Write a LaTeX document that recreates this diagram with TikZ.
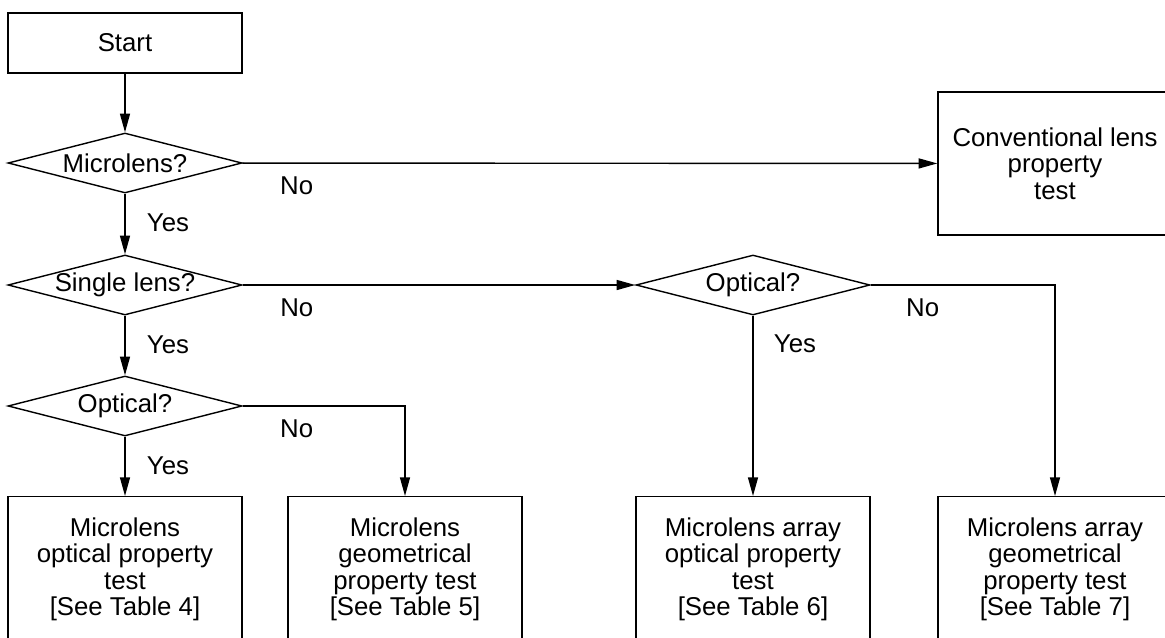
\documentclass[tikz,border=0pt]{standalone}
\usepackage{fontspec}
\setmainfont{Liberation Sans}
\usetikzlibrary{arrows.meta,shapes.geometric}

\begin{document}
\begin{tikzpicture}[x=0.03cm,y=-0.03cm,
    font=\fontsize{22}{22.6}\selectfont,line width=1.2pt,
    box/.style={draw,rectangle,minimum width=7.02cm,align=center,inner sep=0pt},
    testbox/.style={box,anchor=north,minimum height=4.35cm},
    ask/.style={draw,diamond,aspect=3.9,minimum width=7.02cm,minimum height=1.8cm,inner sep=0pt},
    flow/.style={-{Triangle[length=0.56cm,width=0.3cm]}},
    lbl/.style={inner sep=0pt}]
  % picture is cropped at the right and bottom edges
  \path[use as bounding box,clip] (0,0) rectangle (1165,637);

  % left column of questions
  \node[box,minimum height=1.8cm] (start) at (125,43) {Start};
  \node[ask] (micro) at (125,163) {Microlens?};
  \node[ask] (single) at (125,285) {Single lens?};
  \node[ask] (optl) at (125,406) {Optical?};
  \node[ask] (optr) at (753,285) {Optical?};
  \node[box,minimum height=4.29cm] (conv) at (1055,163.5) {Conventional lens\\property\\test};

  % test boxes along the bottom
  \node[testbox] (tab4) at (125,496) {Microlens\\optical property\\test\\{}[See Table 4]};
  \node[testbox] (tab5) at (405,496) {Microlens\\geometrical\\property test\\{}[See Table 5]};
  \node[testbox] (tab6) at (753,496) {Microlens array\\optical property\\test\\{}[See Table 6]};
  \node[testbox] (tab7) at (1055,496) {Microlens array\\geometrical\\property test\\{}[See Table 7]};

  \draw[flow] (start) -- (micro);
  \draw[flow] (micro) -- (conv);
  \draw[flow] (micro) -- (single);
  \draw[flow] (single) -- (optr);
  \draw[flow] (single) -- (optl);
  \draw[flow] (optl) -- (tab4);
  \draw[flow] (optl.east) -| (tab5.north);
  \draw[flow] (optr) -- (tab6);
  \draw[flow] (optr.east) -| (tab7.north);

  % yes / no labels
  \node[lbl,xshift=1.29cm,yshift=-0.87cm] (yes1) at (micro.south) {Yes};
  \node[lbl,xshift=1.29cm,yshift=-0.87cm] (yes2) at (single.south) {Yes};
  \node[lbl,xshift=1.29cm,yshift=-0.87cm] (yes3) at (optl.south) {Yes};
  \node[lbl,xshift=1.26cm,yshift=-0.84cm] (yes4) at (optr.south) {Yes};
  \node[lbl,xshift=1.62cm,yshift=-0.69cm] (no1) at (micro.east) {No};
  \node[lbl,xshift=1.62cm,yshift=-0.69cm] (no2) at (single.east) {No};
  \node[lbl,xshift=1.62cm,yshift=-0.69cm] (no3) at (optl.east) {No};
  \node[lbl,xshift=1.56cm,yshift=-0.69cm] (no4) at (optr.east) {No};
\end{tikzpicture}
\end{document}
